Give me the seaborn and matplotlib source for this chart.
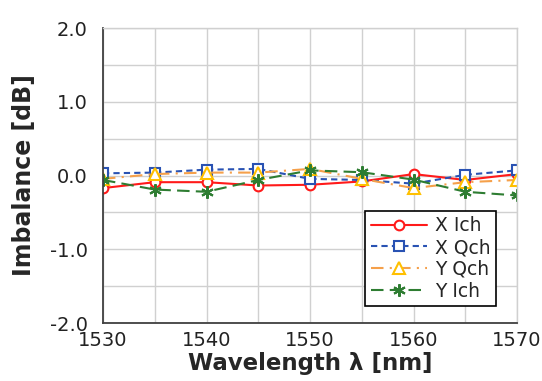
import matplotlib
matplotlib.use("Agg")
import matplotlib.pyplot as plt
import seaborn as sns
import pandas as pd

wavelength = [1530, 1535, 1540, 1545, 1550, 1555, 1560, 1565, 1570]
x_ich = [-0.17, -0.09, -0.09, -0.135, -0.125, -0.08, 0.02, -0.06, 0.02]
x_qch = [0.03, 0.04, 0.08, 0.09, -0.045, -0.06, -0.11, 0.01, 0.07]
y_qch = [-0.045, 0.02, 0.04, 0.04, 0.09, -0.045, -0.17, -0.09, -0.06]
y_ich = [-0.06, -0.19, -0.22, -0.06, 0.07, 0.045, -0.055, -0.22, -0.27]

sns.set_style("white")
plt.rcParams['font.family'] = ['DejaVu Sans']

fig = plt.figure(figsize=(5.42, 3.81), dpi=100)
ax = fig.add_axes([0.190, 0.152, 0.764, 0.7745])

sns.lineplot(x=wavelength, y=x_ich, ax=ax, color='#FF1A1A', linestyle='-', lw=1.5,
             marker='o', markersize=7, markerfacecolor='white', markeredgecolor='#FF1A1A',
             markeredgewidth=1.5, label='X Ich')
sns.lineplot(x=wavelength, y=x_qch, ax=ax, color='#2952B3', linestyle=(0, (3, 2)), lw=1.5,
             marker='s', markersize=7, markerfacecolor='white', markeredgecolor='#2952B3',
             markeredgewidth=1.5, label='X Qch')
sns.lineplot(x=wavelength, y=y_qch, ax=ax, color='#F5A04A', linestyle=(0, (6, 3, 1, 3)), lw=1.5,
             marker='^', markersize=8, markerfacecolor='white', markeredgecolor='#FFC000',
             markeredgewidth=1.5, label='Y Qch')
sns.lineplot(x=wavelength, y=y_ich, ax=ax, color='#2E7D32', linestyle=(0, (6, 3)), lw=1.5,
             marker=(6, 2, 0), markersize=9, markeredgecolor='#2E7D32',
             markeredgewidth=1.5, label='Y Ich')

ax.set_xlim(1530, 1570)
ax.set_ylim(-2.0, 2.0)
ax.set_xticks([1530, 1540, 1550, 1560, 1570])
ax.set_xticks([1535, 1545, 1555, 1565], minor=True)
ax.set_yticks([-2.0, -1.0, 0.0, 1.0, 2.0])
ax.set_yticks([-1.5, -0.5, 0.5, 1.5], minor=True)
ax.set_yticklabels(['-2.0', '-1.0', '0.0', '1.0', '2.0'])
ax.grid(True, which='both', color='#D0D0D0', lw=1.0)
ax.set_axisbelow(True)
ax.tick_params(axis='y', which='both', length=0, labelsize=14, colors='#222222', pad=11)
ax.tick_params(axis='x', which='both', length=0, labelsize=14, colors='#222222', pad=6)

for side in ['left', 'bottom']:
    ax.spines[side].set_color('#404040')
    ax.spines[side].set_linewidth(1.3)
for side in ['top', 'right']:
    ax.spines[side].set_color('#D0D0D0')
    ax.spines[side].set_linewidth(1.0)

ax.set_xlabel('Wavelength λ [nm]', fontsize=16.5, fontweight='bold', labelpad=1)
ax.set_ylabel('Imbalance [dB]', fontsize=17, fontweight='bold', labelpad=10)

leg = ax.legend(loc='lower right', bbox_to_anchor=(0.949, 0.057), borderaxespad=0,
                fontsize=13.5, frameon=True, fancybox=False, edgecolor='black',
                framealpha=1, handlelength=3.0, borderpad=0.3, labelspacing=0.15,
                handletextpad=0.4)
leg.get_frame().set_linewidth(1.2)

fig.savefig('out.png', dpi=100)
